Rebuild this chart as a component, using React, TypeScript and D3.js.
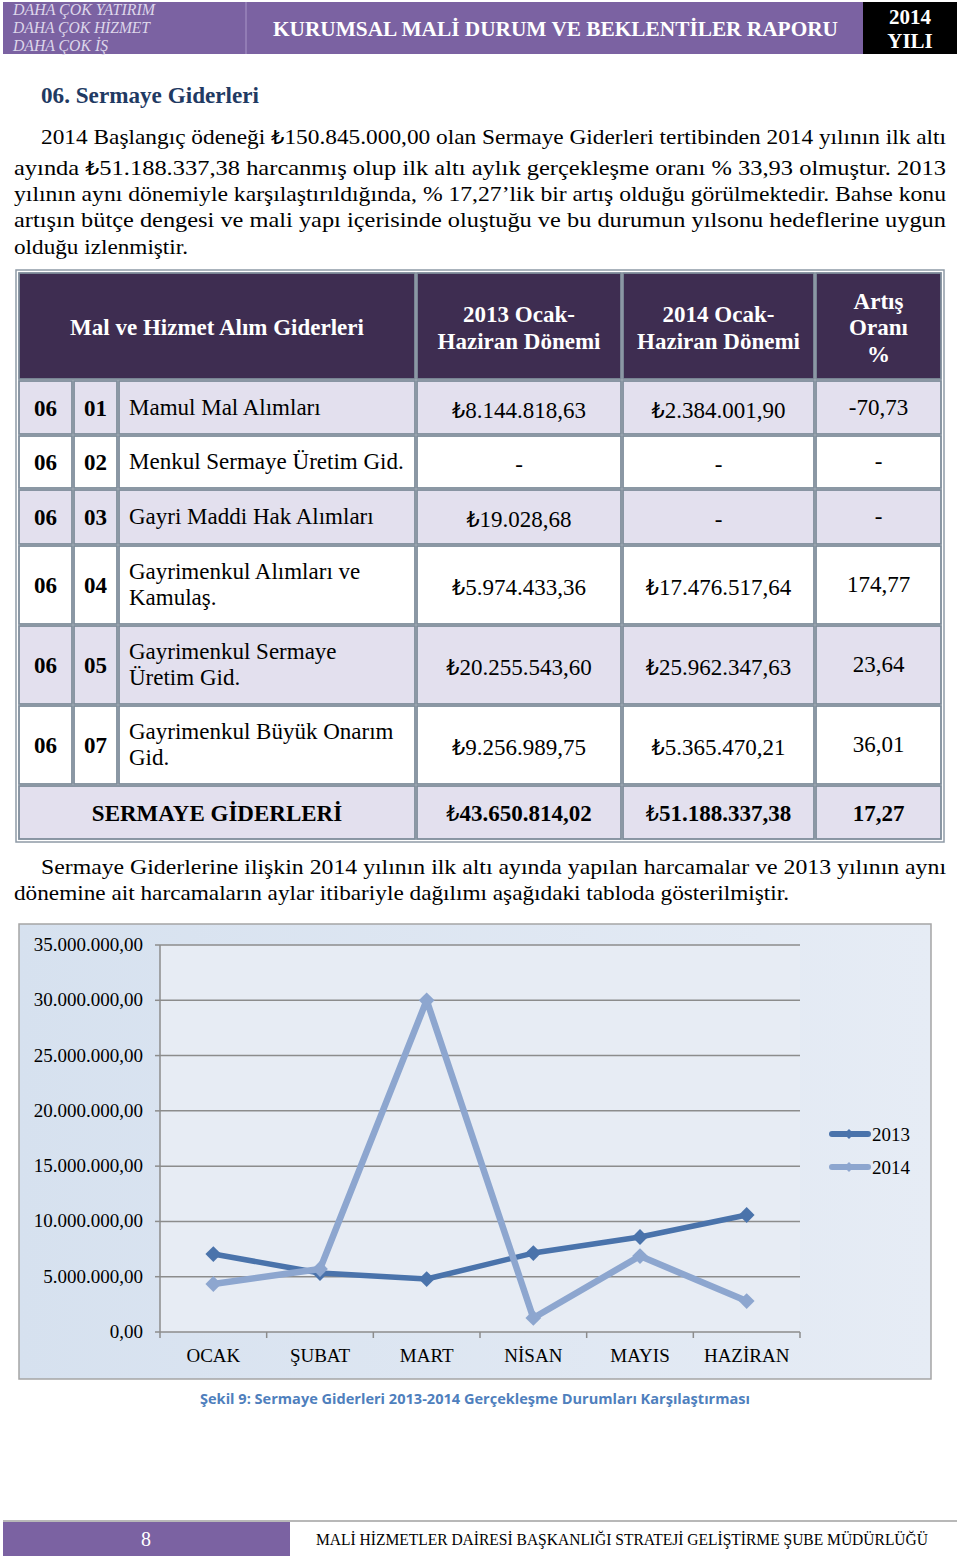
import React from 'react';
import * as d3 from 'd3';

// ---------- DATA ----------
const months = ['OCAK', 'ŞUBAT', 'MART', 'NİSAN', 'MAYIS', 'HAZİRAN'];
const values2013 = [7050000, 5330000, 4790000, 7140000, 8590000, 10580000];
const values2014 = [4340000, 5700000, 30000000, 1270000, 6870000, 2800000];
const seriesNames = ['2013', '2014'];
const yTickValues = [0, 5000000, 10000000, 15000000, 20000000, 25000000, 30000000, 35000000];

const tableCode1 = ['06', '06', '06', '06', '06', '06'];
const tableCode2 = ['01', '02', '03', '04', '05', '07'];
const tableItems = [
  ['Mamul Mal Alımları'],
  ['Menkul Sermaye Üretim Gid.'],
  ['Gayri Maddi Hak Alımları'],
  ['Gayrimenkul Alımları ve', 'Kamulaş.'],
  ['Gayrimenkul Sermaye', 'Üretim Gid.'],
  ['Gayrimenkul Büyük Onarım', 'Gid.'],
];
const table2013 = ['₺8.144.818,63', '-', '₺19.028,68', '₺5.974.433,36', '₺20.255.543,60', '₺9.256.989,75'];
const table2014 = ['₺2.384.001,90', '-', '-', '₺17.476.517,64', '₺25.962.347,63', '₺5.365.470,21'];
const tableRates = ['-70,73', '-', '-', '174,77', '23,64', '36,01'];
const tableTotals = ['SERMAYE GİDERLERİ', '₺43.650.814,02', '₺51.188.337,38', '17,27'];

// ---------- LAYOUT ----------
const SERIF = '"Liberation Serif", "DejaVu Serif", serif';
const SANS = '"Open Sans", "Liberation Sans", sans-serif';
const PURPLE = '#7b62a2';
const TF = 23; // table font size

const paragraph1 = [
  { t: '2014 Başlangıç ödeneği ₺150.845.000,00 olan Sermaye Giderleri tertibinden 2014 yılının ilk altı', x: 41, w: 905, y: 137 },
  { t: 'ayında ₺51.188.337,38 harcanmış olup ilk altı aylık gerçekleşme oranı % 33,93 olmuştur. 2013', x: 14, w: 932, y: 168 },
  { t: 'yılının aynı dönemiyle karşılaştırıldığında, % 17,27’lik bir artış olduğu görülmektedir. Bahse konu', x: 14, w: 932, y: 194 },
  { t: 'artışın bütçe dengesi ve mali yapı içerisinde oluştuğu ve bu durumun yılsonu hedeflerine uygun', x: 14, w: 932, y: 220 },
  { t: 'olduğu izlenmiştir.', x: 14, w: 174, y: 247 },
];
const paragraph2 = [
  { t: 'Sermaye Giderlerine ilişkin 2014 yılının ilk altı ayında yapılan harcamalar ve 2013 yılının aynı', x: 41, w: 905, y: 867 },
  { t: 'dönemine ait harcamaların aylar itibariyle dağılımı aşağıdaki tabloda gösterilmiştir.', x: 14, w: 775, y: 893 },
];

const colEdges = [18, 73, 118, 416, 622, 815, 942];
const rowEdges = [272, 380, 435, 489, 545, 625, 705, 785, 840];

const plot = { left: 160, right: 800, top: 945, bottom: 1332 };

const fmtLocale = d3.formatLocale({ decimal: ',', thousands: '.', grouping: [3], currency: ['₺', ''] });
const fmtTick = fmtLocale.format(',.2f');

function lira(s: string) {
  const parts = s.split('₺');
  const out: React.ReactNode[] = [];
  parts.forEach((p, i) => {
    if (i > 0)
      out.push(
        <tspan key={'l' + i} fontFamily='"DejaVu Sans", sans-serif' fontWeight="normal" fontSize="0.9em">
          ₺
        </tspan>
      );
    out.push(<tspan key={'p' + i}>{p}</tspan>);
  });
  return out;
}

function Cell({ x0, x1, y0, y1, fill }: { x0: number; x1: number; y0: number; y1: number; fill: string }) {
  return (
    <rect x={x0 + 1} y={y0 + 1} width={x1 - x0 - 2} height={y1 - y0 - 2} fill={fill} stroke="#7f8d9b" strokeWidth={1.8} />
  );
}

export default function App() {
  const x = d3.scaleBand<string>().domain(months).range([plot.left, plot.right]).paddingInner(0).paddingOuter(0);
  const y = d3.scaleLinear().domain([0, 35000000]).range([plot.bottom, plot.top]);
  const line = d3
    .line<number>()
    .x((_, i) => (x(months[i]) as number) + x.bandwidth() / 2)
    .y((d) => y(d));
  const series = [
    { name: seriesNames[0], values: values2013, color: '#4a73ab', width: 5.5 },
    { name: seriesNames[1], values: values2014, color: '#8da6cf', width: 6.5 },
  ];
  const diamond = d3.symbol().type(d3.symbolSquare).size(125)();

  const rowFill = (i: number) => (i % 2 === 0 ? '#e3e0ee' : '#ffffff');

  return (
    <svg
      width={960}
      height={1562}
      viewBox="0 0 960 1562"
      style={{ position: 'absolute', left: 0, top: 0, background: '#ffffff' }}
      fontFamily={SERIF}
    >
      <defs>
        <linearGradient id="chartBg" x1="0" y1="0" x2="1" y2="0">
          <stop offset="0" stopColor="#d6e1ef" />
          <stop offset="1" stopColor="#e6ecf5" />
        </linearGradient>
      </defs>

      {/* ---------- Header ---------- */}
      <rect x={3} y={2} width={860} height={52} fill={PURPLE} />
      <line x1={246} y1={2} x2={246} y2={54} stroke="#9a86bb" strokeWidth={1.5} />
      <rect x={863} y={2} width={94} height={52} fill="#000000" />
      {['DAHA ÇOK YATIRIM', 'DAHA ÇOK HİZMET', 'DAHA ÇOK İŞ'].map((t, i) => (
        <text
          key={t}
          x={13}
          y={15 + i * 18}
          fontSize={16}
          fontStyle="italic"
          fill="#ddd6ea"
          textLength={[142, 137, 95][i]}
          lengthAdjust="spacingAndGlyphs"
        >
          {t}
        </text>
      ))}
      <text x={273} y={36} fontSize={22} fontWeight="bold" fill="#ffffff" textLength={565} lengthAdjust="spacingAndGlyphs">
        KURUMSAL MALİ DURUM VE BEKLENTİLER RAPORU
      </text>
      <text x={910} y={24} fontSize={21} fontWeight="bold" fill="#ffffff" textAnchor="middle">
        2014
      </text>
      <text x={910} y={48} fontSize={21} fontWeight="bold" fill="#ffffff" textAnchor="middle">
        YILI
      </text>

      {/* ---------- Title & paragraphs ---------- */}
      <text x={41} y={103} fontSize={23} fontWeight="bold" fill="#1f3a63" textLength={218} lengthAdjust="spacingAndGlyphs">
        06. Sermaye Giderleri
      </text>
      {[...paragraph1, ...paragraph2].map((l) => (
        <text key={l.t} x={l.x} y={l.y + 7} fontSize={22} fill="#000" textLength={l.w} lengthAdjust="spacingAndGlyphs">
          {lira(l.t)}
        </text>
      ))}

      {/* ---------- Table ---------- */}
      <rect x={16} y={270} width={928} height={572} fill="#ffffff" stroke="#8f9aa6" strokeWidth={1.5} />
      <Cell x0={colEdges[0]} x1={colEdges[3]} y0={rowEdges[0]} y1={rowEdges[1]} fill="#3e2d51" />
      <Cell x0={colEdges[3]} x1={colEdges[4]} y0={rowEdges[0]} y1={rowEdges[1]} fill="#3e2d51" />
      <Cell x0={colEdges[4]} x1={colEdges[5]} y0={rowEdges[0]} y1={rowEdges[1]} fill="#3e2d51" />
      <Cell x0={colEdges[5]} x1={colEdges[6]} y0={rowEdges[0]} y1={rowEdges[1]} fill="#3e2d51" />
      <g fill="#ffffff" fontWeight="bold" fontSize={TF} textAnchor="middle">
        <text x={(colEdges[0] + colEdges[3]) / 2} y={335}>Mal ve Hizmet Alım Giderleri</text>
        <text x={(colEdges[3] + colEdges[4]) / 2} y={322}>2013 Ocak-</text>
        <text x={(colEdges[3] + colEdges[4]) / 2} y={349}>Haziran Dönemi</text>
        <text x={(colEdges[4] + colEdges[5]) / 2} y={322}>2014 Ocak-</text>
        <text x={(colEdges[4] + colEdges[5]) / 2} y={349}>Haziran Dönemi</text>
        <text x={(colEdges[5] + colEdges[6]) / 2} y={309}>Artış</text>
        <text x={(colEdges[5] + colEdges[6]) / 2} y={335}>Oranı</text>
        <text x={(colEdges[5] + colEdges[6]) / 2} y={362}>%</text>
      </g>
      {tableItems.map((lines, i) => {
        const y0 = rowEdges[i + 1];
        const y1 = rowEdges[i + 2];
        const cy = (y0 + y1) / 2;
        const fill = rowFill(i);
        return (
          <g key={i}>
            {[0, 1, 2, 3, 4, 5].map((c) => (
              <Cell key={c} x0={colEdges[c]} x1={colEdges[c + 1]} y0={y0} y1={y1} fill={fill} />
            ))}
            <text x={(colEdges[0] + colEdges[1]) / 2} y={cy + 8} fontSize={TF} fontWeight="bold" textAnchor="middle">
              {tableCode1[i]}
            </text>
            <text x={(colEdges[1] + colEdges[2]) / 2} y={cy + 8} fontSize={TF} fontWeight="bold" textAnchor="middle">
              {tableCode2[i]}
            </text>
            {lines.map((ln, k) => (
              <text key={k} x={129} y={cy + 7 + (k - (lines.length - 1) / 2) * 26} fontSize={TF}>
                {ln}
              </text>
            ))}
            <text x={(colEdges[3] + colEdges[4]) / 2} y={cy + 10} fontSize={TF} textAnchor="middle">
              {lira(table2013[i])}
            </text>
            <text x={(colEdges[4] + colEdges[5]) / 2} y={cy + 10} fontSize={TF} textAnchor="middle">
              {lira(table2014[i])}
            </text>
            <text x={(colEdges[5] + colEdges[6]) / 2} y={cy + 7} fontSize={TF} textAnchor="middle">
              {tableRates[i]}
            </text>
          </g>
        );
      })}
      {(() => {
        const y0 = rowEdges[7];
        const y1 = rowEdges[8];
        const cy = (y0 + y1) / 2;
        const spans = [
          [colEdges[0], colEdges[3]],
          [colEdges[3], colEdges[4]],
          [colEdges[4], colEdges[5]],
          [colEdges[5], colEdges[6]],
        ];
        return (
          <g>
            {spans.map(([a, b], k) => (
              <Cell key={k} x0={a} x1={b} y0={y0} y1={y1} fill="#e3e0ee" />
            ))}
            {spans.map(([a, b], k) => (
              <text key={'t' + k} x={(a + b) / 2} y={cy + 8} fontSize={TF} fontWeight="bold" textAnchor="middle">
                {lira(tableTotals[k])}
              </text>
            ))}
          </g>
        );
      })()}

      {/* ---------- Chart ---------- */}
      <rect x={19} y={924} width={912} height={455} fill="url(#chartBg)" stroke="#a5a5a5" strokeWidth={1.5} />
      <rect x={plot.left} y={plot.top} width={plot.right - plot.left} height={plot.bottom - plot.top} fill="#e7ecf4" />
      {yTickValues.map((v) => (
        <g key={v}>
          <line x1={plot.left} x2={plot.right} y1={y(v)} y2={y(v)} stroke="#8c8c8c" strokeWidth={1.5} />
          <line x1={plot.left - 5} x2={plot.left} y1={y(v)} y2={y(v)} stroke="#8c8c8c" strokeWidth={1.5} />
          <text x={143} y={y(v) + 6} fontSize={19} textAnchor="end" fill="#000">
            {fmtTick(v)}
          </text>
        </g>
      ))}
      <line x1={plot.left} x2={plot.left} y1={plot.top} y2={plot.bottom} stroke="#8c8c8c" strokeWidth={1.5} />
      {months.map((m) => (
        <line key={'tk' + m} x1={x(m) as number} x2={x(m) as number} y1={plot.bottom} y2={plot.bottom + 6} stroke="#8c8c8c" strokeWidth={1.5} />
      ))}
      <line x1={plot.right} x2={plot.right} y1={plot.bottom} y2={plot.bottom + 6} stroke="#8c8c8c" strokeWidth={1.5} />
      {months.map((m) => (
        <text key={m} x={(x(m) as number) + x.bandwidth() / 2} y={1362} fontSize={19} textAnchor="middle" fill="#000">
          {m}
        </text>
      ))}
      {series.map((s) => (
        <g key={s.name}>
          <path d={line(s.values) || ''} fill="none" stroke={s.color} strokeWidth={s.width} strokeLinejoin="round" />
          {s.values.map((v, i) => (
            <path
              key={i}
              d={diamond || ''}
              transform={`translate(${(x(months[i]) as number) + x.bandwidth() / 2},${y(v)}) rotate(45)`}
              fill={s.color}
            />
          ))}
        </g>
      ))}
      {/* legend */}
      {series.map((s, i) => (
        <g key={'lg' + s.name} transform={`translate(0,${1134 + i * 33})`}>
          <line x1={832} x2={868} y1={0} y2={0} stroke={s.color} strokeWidth={6} strokeLinecap="round" />
          <path d={d3.symbol().type(d3.symbolSquare).size(50)() || ''} transform="translate(849,0) rotate(45)" fill={s.color} />
          <text x={872} y={7} fontSize={19} fill="#000">
            {s.name}
          </text>
        </g>
      ))}

      {/* caption */}
      <text
        x={200}
        y={1404}
        fontFamily={SANS}
        fontSize={15}
        fontWeight="bold"
        fill="#4f7fbd"
        textLength={550}
        lengthAdjust="spacingAndGlyphs"
      >
        Şekil 9: Sermaye Giderleri 2013-2014 Gerçekleşme Durumları Karşılaştırması
      </text>

      {/* ---------- Footer ---------- */}
      <line x1={3} x2={957} y1={1521} y2={1521} stroke="#a0a0a0" strokeWidth={1.5} />
      <rect x={3} y={1522} width={287} height={34} fill={PURPLE} />
      <text x={146} y={1546} fontSize={20} fill="#ffffff" textAnchor="middle">
        8
      </text>
      <text x={316} y={1545} fontSize={16} fill="#000" textLength={612} lengthAdjust="spacingAndGlyphs">
        MALİ HİZMETLER DAİRESİ BAŞKANLIĞI STRATEJİ GELİŞTİRME ŞUBE MÜDÜRLÜĞÜ
      </text>
    </svg>
  );
}
